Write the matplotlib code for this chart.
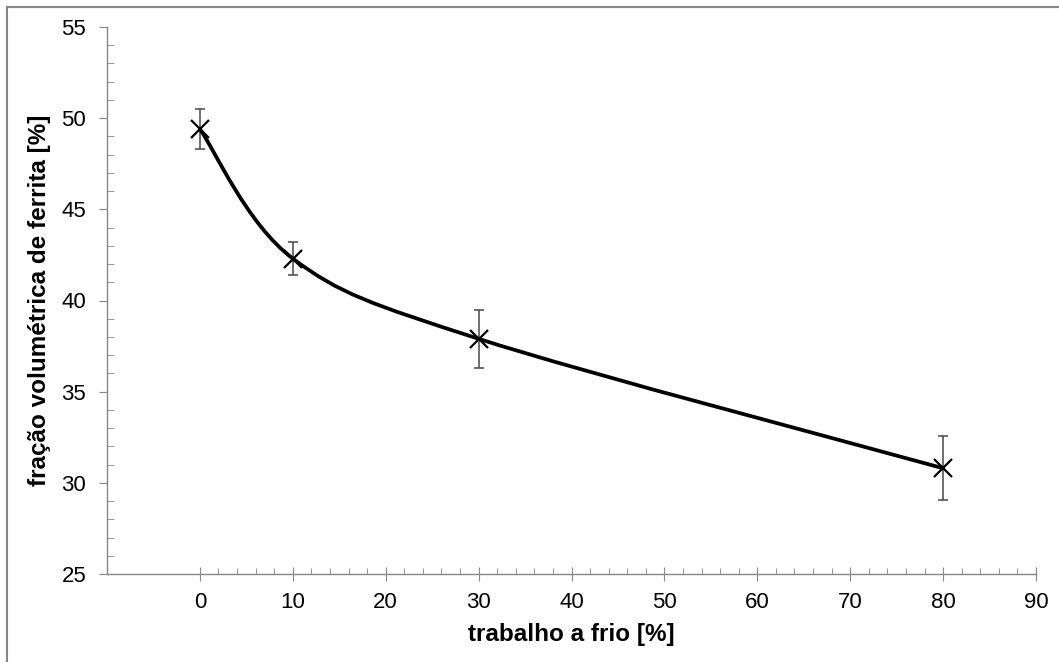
import numpy as np
import matplotlib
matplotlib.use("Agg")
import matplotlib.pyplot as plt
from matplotlib.path import Path
from matplotlib.patches import PathPatch
from matplotlib.lines import Line2D
from matplotlib.ticker import FixedLocator, MultipleLocator

# data
trabalho = [0, 10, 30, 80]
ferrita = [49.4, 42.3, 37.9, 30.8]
erro = [1.1, 0.9, 1.6, 1.75]

x_ticks = [0, 10, 20, 30, 40, 50, 60, 70, 80, 90]
y_ticks = [25, 30, 35, 40, 45, 50, 55]

plt.rcParams["font.family"] = ["Liberation Sans", "DejaVu Sans"]
GRAY = "#868686"


def smooth_path(xs, ys):
    """Excel-like smoothed line as cubic Bezier segments."""
    pts = np.column_stack([xs, ys]).astype(float)
    n = len(pts)
    verts = [pts[0]]
    codes = [Path.MOVETO]
    for i in range(n - 1):
        p_prev = pts[i - 1] if i > 0 else pts[i]
        p_next2 = pts[i + 2] if i + 2 < n else pts[i + 1]
        c1 = pts[i] + (pts[i + 1] - p_prev) / 6.0
        c2 = pts[i + 1] - (p_next2 - pts[i]) / 6.0
        verts += [c1, c2, pts[i + 1]]
        codes += [Path.CURVE4] * 3
    return Path(verts, codes)


fig = plt.figure(figsize=(10.59, 6.62), dpi=100)
ax = fig.add_axes([107 / 1059, 88 / 662, (1036 - 107) / 1059, (574 - 27) / 662])

ax.add_patch(PathPatch(smooth_path(trabalho, ferrita), fill=False,
                       edgecolor="black", lw=2.7, zorder=3))
ax.errorbar(trabalho, ferrita, yerr=erro, fmt="none", ecolor="#555555",
            elinewidth=1.2, capsize=3.5, capthick=1.2, zorder=2)
ax.plot(trabalho, ferrita, "x", color="black", markersize=13,
        markeredgewidth=1.6, zorder=4)

ax.set_xlim(-10, 90)
ax.set_ylim(25, 55)
ax.set_xticks(x_ticks)
ax.set_yticks(y_ticks)
ax.xaxis.set_minor_locator(FixedLocator(np.arange(2, 90, 2)))
ax.yaxis.set_minor_locator(MultipleLocator(1))

for s in ("top", "right"):
    ax.spines[s].set_visible(False)
for s in ("left", "bottom"):
    ax.spines[s].set_color(GRAY)
    ax.spines[s].set_linewidth(1.0)

ax.tick_params(axis="x", which="major", direction="inout", length=10,
               color=GRAY, labelsize=16, pad=8)
ax.tick_params(axis="x", which="minor", direction="in", length=4, color=GRAY)
ax.tick_params(axis="y", which="major", direction="out", length=6,
               color=GRAY, labelsize=16, pad=9)
ax.tick_params(axis="y", which="minor", direction="in", length=5, color=GRAY)

ax.set_xlabel("trabalho a frio [%]", fontsize=17.5, fontweight="bold",
              labelpad=7)
ax.set_ylabel("fração volumétrica de ferrita [%]", fontsize=17.5,
              fontweight="bold")
ax.yaxis.set_label_coords(-0.06, 0.5)

# outer frame of the chart area
fig.add_artist(Line2D([7 / 1059, 1], [1 - 7 / 662, 1 - 7 / 662],
                      transform=fig.transFigure, color=GRAY, lw=1.5))
fig.add_artist(Line2D([7 / 1059, 7 / 1059], [0, 1 - 7 / 662],
                      transform=fig.transFigure, color=GRAY, lw=1.5))

fig.savefig("out.png", dpi=100)
